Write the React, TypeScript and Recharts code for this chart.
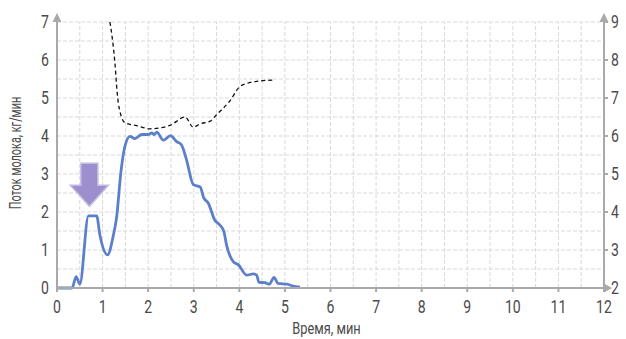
import React from 'react';
import {
  LineChart, Line, XAxis, YAxis, ReferenceLine, ReferenceDot, Label,
} from 'recharts';

// milk flow, kg/min (left axis)
const flowTime = [0, 0.33, 0.42, 0.5, 0.69, 0.87, 0.94, 1.11, 1.23, 1.31, 1.4, 1.49, 1.6, 1.71, 1.86, 2.0, 2.08, 2.13, 2.19, 2.33, 2.49, 2.62, 2.73, 2.84, 2.99, 3.14, 3.22, 3.32, 3.46, 3.57, 3.66, 3.72, 3.87, 3.98, 4.16, 4.31, 4.38, 4.43, 4.56, 4.66, 4.76, 4.85, 5.05, 5.18, 5.33];
const flowValues = [0, 0, 0.3, 0.1, 1.9, 1.9, 1.4, 0.87, 1.35, 1.88, 3.03, 3.73, 3.99, 3.93, 4.04, 4.04, 4.08, 4.04, 4.1, 3.89, 4.01, 3.86, 3.77, 3.38, 2.72, 2.66, 2.37, 2.23, 1.79, 1.66, 1.49, 1.13, 0.69, 0.61, 0.34, 0.37, 0.34, 0.15, 0.14, 0.1, 0.28, 0.12, 0.1, 0.05, 0.02];

// dashed curve (right axis)
const dashTime = [1.16, 1.21, 1.27, 1.32, 1.42, 1.49, 1.75, 2.04, 2.48, 2.81, 2.99, 3.14, 3.36, 3.5, 3.79, 4.01, 4.16, 4.38, 4.74];
const dashValues = [9, 8.6, 7.93, 7.14, 6.48, 6.35, 6.27, 6.19, 6.28, 6.5, 6.23, 6.32, 6.39, 6.56, 6.92, 7.3, 7.38, 7.44, 7.47];

const xTicks = [0, 1, 2, 3, 4, 5, 6, 7, 8, 9, 10, 11, 12];
const leftTicks = [0, 1, 2, 3, 4, 5, 6, 7];
const rightTicks = [2, 3, 4, 5, 6, 7, 8, 9];
const xGrid = [0.5, 1, 1.5, 2, 2.5, 3, 3.5, 4, 4.5, 5, 5.5, 6, 6.5, 7, 7.5, 8, 8.5, 9, 9.5, 10, 10.5, 11, 11.5];
const yGrid = [0.5, 1, 1.5, 2, 2.5, 3, 3.5, 4, 4.5, 5, 5.5, 6, 6.5, 7];

const flowData = flowTime.map((t, i) => ({ t, v: flowValues[i] }));
const dashData = dashTime.map((t, i) => ({ t, v: dashValues[i] }));

const FONT = "Roboto, 'DejaVu Sans', sans-serif";
const AXIS = '#a9a9a9';
const TEXT = '#4a4a4a';
const GRID = '#d9d9d9';

// condensed-looking tick text
const makeTick = (anchor: string, dy: string) => (p: any) => (
  <g transform={`translate(${p.x},${p.y})`}>
    <text transform="scale(0.78,1)" textAnchor={anchor} dy={dy} fill={TEXT} fontSize={18} fontFamily={FONT}>
      {p.payload.value}
    </text>
  </g>
);

const yTitle = (p: any) => {
  const vb = p.viewBox;
  return (
    <text transform={`translate(${vb.x + 15},${vb.y + vb.height / 2 - 2}) rotate(-90) scale(0.68,1)`}
      textAnchor="middle" dy="0.35em" fill={TEXT} fontSize={16} fontFamily={FONT}>
      Поток молока, кг/мин
    </text>
  );
};

const xTitle = (p: any) => {
  const vb = p.viewBox;
  return (
    <text transform={`translate(${vb.x + vb.width / 2 - 4},${vb.y + 46}) scale(0.8,1)`}
      textAnchor="middle" fill={TEXT} fontSize={16} fontFamily={FONT}>
      Время, мин
    </text>
  );
};

const upArrow = (p: any) => (
  <polygon points={`${p.cx},${p.cy - 9} ${p.cx - 4.5},${p.cy} ${p.cx + 4.5},${p.cy}`} fill={AXIS} />
);
const rightArrow = (p: any) => (
  <polygon points={`${p.cx + 8},${p.cy} ${p.cx},${p.cy - 4.5} ${p.cx},${p.cy + 4.5}`} fill={AXIS} />
);
const bigArrow = (p: any) => {
  const { cx, cy } = p;
  const pts = [
    [cx, cy], [cx - 19, cy - 21], [cx - 8.5, cy - 21], [cx - 8.5, cy - 43],
    [cx + 8.5, cy - 43], [cx + 8.5, cy - 21], [cx + 19, cy - 21],
  ].map((q) => q.join(',')).join(' ');
  return <polygon points={pts} fill="#9d8fcd" stroke="#c4bbe3" strokeWidth={1.5} />;
};

export default function App() {
  return (
    <div style={{ position: 'absolute', left: 0, top: 0, background: '#fff' }}>
      <LineChart width={626} height={339} margin={{ top: 22, right: 0, bottom: 0, left: 0 }}>
        <XAxis
          type="number" dataKey="t" domain={[0, 12]} ticks={xTicks} height={51}
          stroke={AXIS} strokeWidth={2} tickSize={4} tickMargin={8} tick={makeTick('middle', '0.71em')}
        >
          <Label content={xTitle} />
        </XAxis>
        <YAxis
          yAxisId="left" type="number" domain={[0, 7]} ticks={leftTicks} width={57}
          stroke={AXIS} strokeWidth={2} tickLine={false} tickSize={4} tickMargin={4} tick={makeTick('end', '0.355em')}
        >
          <Label content={yTitle} />
        </YAxis>
        <YAxis
          yAxisId="right" orientation="right" type="number" domain={[2, 9]} ticks={rightTicks} width={22}
          stroke={AXIS} strokeWidth={2} tickSize={4} tickMargin={3} tick={makeTick('start', '0.355em')}
        />
        {xGrid.map((v) => (
          <ReferenceLine key={`gx${v}`} yAxisId="left" x={v} stroke={GRID} strokeDasharray="4 2" />
        ))}
        {yGrid.map((v) => (
          <ReferenceLine key={`gy${v}`} yAxisId="left" y={v} stroke={GRID} strokeDasharray="4 2" />
        ))}
        <Line
          yAxisId="right" data={dashData} dataKey="v" type="monotone" stroke="#111" strokeWidth={1.3}
          strokeDasharray="4 3" dot={false} isAnimationActive={false}
        />
        <Line
          yAxisId="left" data={flowData} dataKey="v" type="monotone" stroke="#5b7fc9" strokeWidth={2.8}
          dot={false} isAnimationActive={false}
        />
        <ReferenceDot yAxisId="left" x={0.71} y={2.15} ifOverflow="visible" shape={bigArrow} />
        <ReferenceDot yAxisId="left" x={0} y={7} ifOverflow="visible" shape={upArrow} />
        <ReferenceDot yAxisId="left" x={12} y={7} ifOverflow="visible" shape={upArrow} />
        <ReferenceDot yAxisId="left" x={12} y={0} ifOverflow="visible" shape={rightArrow} />
      </LineChart>
    </div>
  );
}
